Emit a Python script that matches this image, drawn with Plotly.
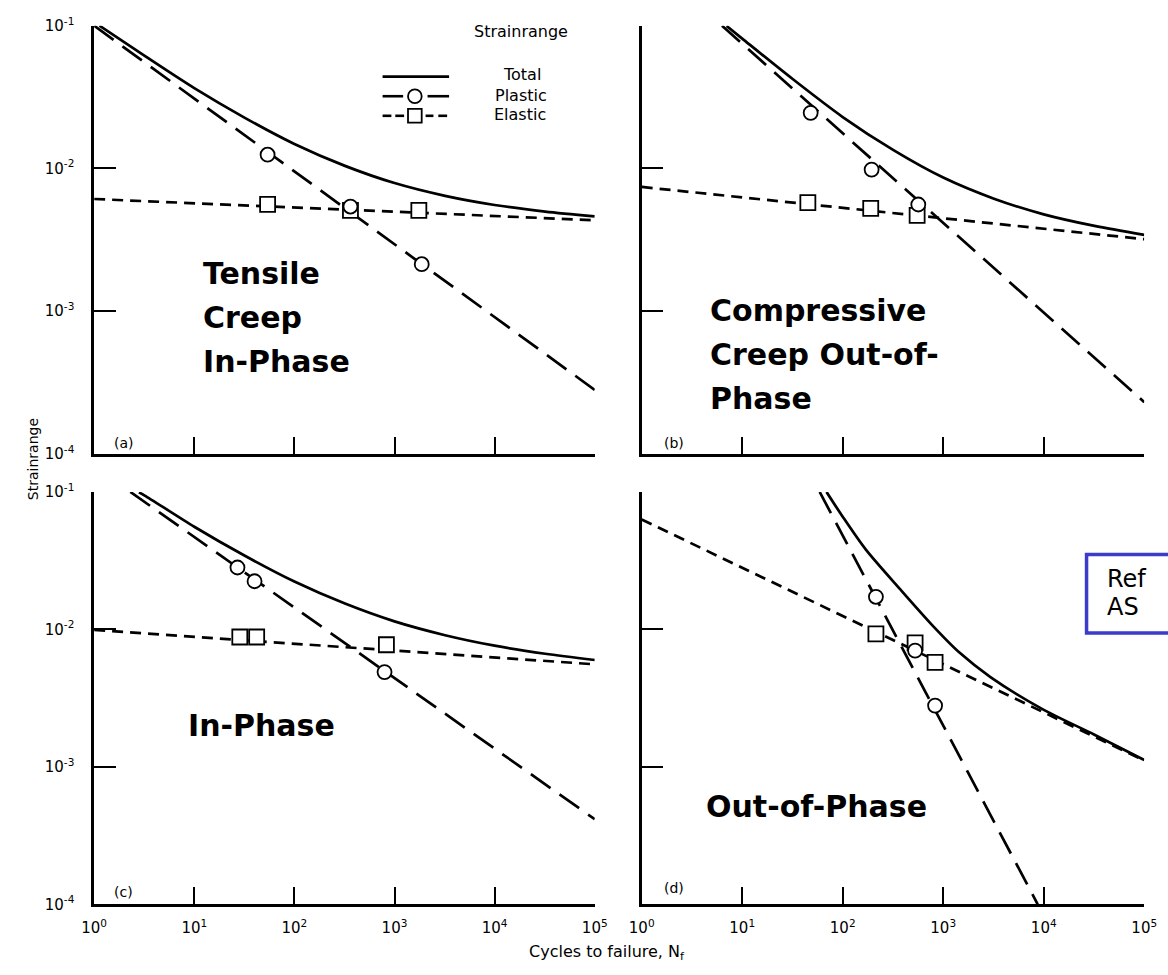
import plotly.graph_objects as go

# ---------------- data ----------------
# Panel (a) Tensile creep in-phase
a_plastic_N = [1, 100000]
a_plastic_e = [0.1, 2.8e-4]
a_elastic_N = [1, 100000]
a_elastic_e = [6.1e-3, 4.33e-3]
a_total_N = [1.13, 3.2, 10, 32, 100, 320, 1000, 3200, 10000, 32000, 100000]
a_total_e = [0.1, 0.0614, 0.0365, 0.0226, 0.01482, 0.01041, 7.89e-3, 6.42e-3, 5.54e-3, 4.98e-3, 4.61e-3]
a_circ_N = [54, 363, 1870]
a_circ_e = [0.01247, 5.4e-3, 2.13e-3]
a_sq_N = [54, 363, 1750]
a_sq_e = [5.6e-3, 5.07e-3, 5.07e-3]

# Panel (b) Compressive creep out-of-phase
b_plastic_N = [6.3, 100000]
b_plastic_e = [0.1, 2.3e-4]
b_elastic_N = [1, 100000]
b_elastic_e = [7.41e-3, 3.19e-3]
b_total_N = [7.0, 10, 32, 100, 320, 1000, 3200, 10000, 32000, 100000]
b_total_e = [0.0995, 0.0812, 0.0421, 0.0229, 0.01342, 8.62e-3, 6.13e-3, 4.76e-3, 3.95e-3, 3.42e-3]
b_circ_N = [48, 194, 565]
b_circ_e = [0.0245, 9.8e-3, 5.58e-3]
b_sq_N = [45, 190, 550]
b_sq_e = [5.75e-3, 5.24e-3, 4.69e-3]

# Panel (c) In-phase
c_plastic_N = [2.3, 100000]
c_plastic_e = [0.1, 4.16e-4]
c_elastic_N = [1, 100000]
c_elastic_e = [9.9e-3, 5.57e-3]
c_total_N = [2.8, 3.2, 10, 32, 100, 320, 1000, 3200, 10000, 32000, 100000]
c_total_e = [0.0993, 0.0941, 0.0558, 0.0343, 0.02227, 0.0154, 0.01143, 9.07e-3, 7.61e-3, 6.65e-3, 5.99e-3]
c_circ_N = [27, 40, 795]
c_circ_e = [0.0282, 0.0224, 4.89e-3]
c_sq_N = [28.5, 42, 830]
c_sq_e = [8.8e-3, 8.8e-3, 7.73e-3]

# Panel (d) Out-of-phase
d_plastic_N = [59, 8710]
d_plastic_e = [0.1, 1e-4]
d_elastic_N = [1, 100000]
d_elastic_e = [0.063, 1.11e-3]
d_total_N = [69, 100, 170, 370, 780, 1450, 2950, 9800, 31600, 100000]
d_total_e = [0.1, 0.066, 0.038, 0.0197, 0.0107, 6.78e-3, 4.5e-3, 2.62e-3, 1.72e-3, 1.12e-3]
d_circ_N = [214, 525, 830]
d_circ_e = [0.01726, 7.0e-3, 2.79e-3]
d_sq_N = [214, 525, 830]
d_sq_e = [9.27e-3, 7.98e-3, 5.75e-3]

x_tickvals = [1, 10, 100, 1000, 10000, 100000]
x_ticktext = ["10<sup>0</sup>", "10<sup>1</sup>", "10<sup>2</sup>", "10<sup>3</sup>", "10<sup>4</sup>", "10<sup>5</sup>"]
y_tickvals = [1e-4, 1e-3, 1e-2, 1e-1]
y_ticktext = ["10<sup>-4</sup>", "10<sup>-3</sup>", "10<sup>-2</sup>", "10<sup>-1</sup>"]

panel_names = ["(a)", "(b)", "(c)", "(d)"]
legend_labels = ["Total", "Plastic", "Elastic"]

# ---------------- layout helpers ----------------
W, H = 1168, 975
def px(x):
    return x / W
def py(y):
    return 1 - y / H

FONT = "DejaVu Sans, sans-serif"
LW = 2.7
PLASTIC_DASH = "24px,11px"
ELASTIC_DASH = "11px,7px"

fig = go.Figure()

panels = [
    ("x", "y", a_total_N, a_total_e, a_plastic_N, a_plastic_e, a_elastic_N, a_elastic_e, a_circ_N, a_circ_e, a_sq_N, a_sq_e),
    ("x2", "y2", b_total_N, b_total_e, b_plastic_N, b_plastic_e, b_elastic_N, b_elastic_e, b_circ_N, b_circ_e, b_sq_N, b_sq_e),
    ("x3", "y3", c_total_N, c_total_e, c_plastic_N, c_plastic_e, c_elastic_N, c_elastic_e, c_circ_N, c_circ_e, c_sq_N, c_sq_e),
    ("x4", "y4", d_total_N, d_total_e, d_plastic_N, d_plastic_e, d_elastic_N, d_elastic_e, d_circ_N, d_circ_e, d_sq_N, d_sq_e),
]

for (xa, ya, tN, te, pN, pe, eN, ee, cN, ce, sN, se) in panels:
    fig.add_trace(go.Scatter(x=tN, y=te, xaxis=xa, yaxis=ya, mode="lines",
                             line=dict(color="black", width=LW, shape="spline", smoothing=0.8),
                             showlegend=False, hoverinfo="skip"))
    fig.add_trace(go.Scatter(x=pN, y=pe, xaxis=xa, yaxis=ya, mode="lines",
                             line=dict(color="black", width=LW, dash=PLASTIC_DASH),
                             showlegend=False, hoverinfo="skip"))
    fig.add_trace(go.Scatter(x=eN, y=ee, xaxis=xa, yaxis=ya, mode="lines",
                             line=dict(color="black", width=LW, dash=ELASTIC_DASH),
                             showlegend=False, hoverinfo="skip"))
    fig.add_trace(go.Scatter(x=sN, y=se, xaxis=xa, yaxis=ya, mode="markers",
                             marker=dict(symbol="square", size=15, color="white",
                                         line=dict(color="black", width=1.8)),
                             showlegend=False, hoverinfo="skip"))
    fig.add_trace(go.Scatter(x=cN, y=ce, xaxis=xa, yaxis=ya, mode="markers",
                             marker=dict(symbol="circle", size=14, color="white",
                                         line=dict(color="black", width=1.8)),
                             showlegend=False, hoverinfo="skip"))

# axis domains (pixel positions measured on the reference)
xdom_left = [px(83), px(595)]
xdom_right = [px(643), px(1157)]
ydom_top = [py(452), py(15)]
ydom_bot = [py(912), py(491)]

def xaxis(domain, anchor, labels):
    return dict(type="log", range=[0, 5], domain=domain, anchor=anchor,
                showline=True, linecolor="black", linewidth=2.6, mirror=False,
                ticks="inside", ticklen=17, tickwidth=2.3, tickcolor="black",
                tickvals=x_tickvals, ticktext=x_ticktext, showticklabels=labels,
                tickfont=dict(family=FONT, size=15, color="black"),
                ticklabelstandoff=8,
                showgrid=False, zeroline=False, fixedrange=True)

def yaxis(domain, anchor, labels):
    return dict(type="log", range=[-4, -1], domain=domain, anchor=anchor,
                showline=True, linecolor="black", linewidth=2.6, mirror=False,
                ticks="inside", ticklen=22, tickwidth=2.3, tickcolor="black",
                tickvals=y_tickvals, ticktext=y_ticktext, showticklabels=labels,
                tickfont=dict(family=FONT, size=15, color="black"),
                ticklabelstandoff=14,
                showgrid=False, zeroline=False, fixedrange=True)

fig.update_layout(
    width=W, height=H,
    margin=dict(l=0, r=0, t=0, b=0),
    paper_bgcolor="white", plot_bgcolor="white",
    showlegend=False,
    xaxis=xaxis(xdom_left, "y", False),
    yaxis=yaxis(ydom_top, "x", True),
    xaxis2=xaxis(xdom_right, "y2", False),
    yaxis2=yaxis(ydom_top, "x2", False),
    xaxis3=xaxis(xdom_left, "y3", True),
    yaxis3=yaxis(ydom_bot, "x3", True),
    xaxis4=xaxis(xdom_right, "y4", True),
    yaxis4=yaxis(ydom_bot, "x4", False),
)

ann = []
def text(x, y, s, size, bold=False, xanchor="left", yanchor="middle", angle=0, family=FONT):
    ann.append(dict(x=px(x), y=py(y), xref="paper", yref="paper", text=(f"<b>{s}</b>" if bold else s),
                    showarrow=False, xanchor=xanchor, yanchor=yanchor, textangle=angle,
                    font=dict(family=family, size=size, color="black")))

# panel letters
text(101, 441, panel_names[0], 14)
text(664, 441, panel_names[1], 14)
text(101, 899, panel_names[2], 14)
text(664, 895, panel_names[3], 14)

# axis titles
text(20, 458, "Strainrange", 14, xanchor="center", angle=-90)
text(608, 961, "Cycles to failure, N<sub>f</sub>", 16, xanchor="center")

# big bold labels
BS = 30
text(192, 268, "Tensile", BS, bold=True)
text(192, 313, "Creep", BS, bold=True)
text(192, 358, "In-Phase", BS, bold=True)
text(711, 306, "Compressive", BS, bold=True)
text(711, 351, "Creep Out-of-", BS, bold=True)
text(711, 396, "Phase", BS, bold=True)
text(177, 729, "In-Phase", BS, bold=True)
text(707, 812, "Out-of-Phase", BS, bold=True)

# legend
text(520, 21, "Strainrange", 16, xanchor="center")
text(521, 65, legend_labels[0], 16, xanchor="center")
text(520, 86, legend_labels[1], 16, xanchor="center")
text(519, 106, legend_labels[2], 16, xanchor="center")

# reference box (cut by the right edge)
text(1117, 580, "Ref", 24)
text(1117, 608, "AS", 24)

shapes = []
def seg(x0, x1, y, w=2.6):
    shapes.append(dict(type="line", xref="paper", yref="paper", x0=px(x0), x1=px(x1), y0=py(y), y1=py(y),
                       line=dict(color="black", width=w)))
seg(378, 446, 67)
seg(378, 399, 87)
seg(424, 446, 87)
for a0, a1 in [(378, 387), (391, 400), (422, 430), (435, 444)]:
    seg(a0, a1, 107)
shapes.append(dict(type="circle", xref="paper", yref="paper", x0=px(404), x1=px(418), y0=py(94), y1=py(80),
                   line=dict(color="black", width=1.8), fillcolor="white"))
shapes.append(dict(type="rect", xref="paper", yref="paper", x0=px(404), x1=px(418), y0=py(114), y1=py(100),
                   line=dict(color="black", width=1.8), fillcolor="white"))
shapes.append(dict(type="rect", xref="paper", yref="paper", x0=px(1098), x1=px(1300), y0=py(635), y1=py(555),
                   line=dict(color="#3b3bcc", width=3.5), fillcolor="rgba(0,0,0,0)"))

fig.update_layout(annotations=ann, shapes=shapes)
fig.write_html("out.html", config={"displayModeBar": False},
               post_script="document.body.style.margin='0px';document.body.style.overflow='hidden';")
